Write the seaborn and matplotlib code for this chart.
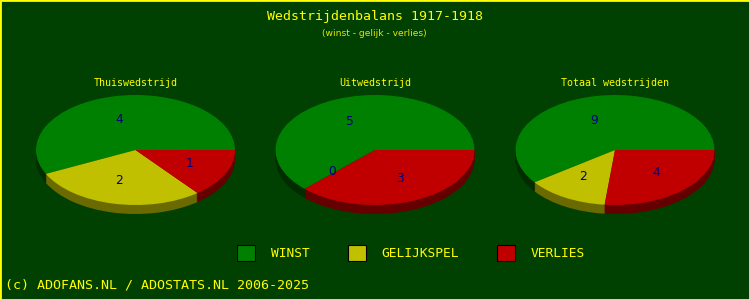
import matplotlib
matplotlib.use("Agg")
import matplotlib.pyplot as plt
import seaborn as sns
from matplotlib.patches import Patch, Rectangle

sns.set_theme(style="white")
plt.rcParams['font.family'] = ['DejaVu Sans Mono', 'DejaVu Sans']

# ---- data ----
categories = ["WINST", "GELIJKSPEL", "VERLIES"]
pie_titles = ["Thuiswedstrijd", "Uitwedstrijd", "Totaal wedstrijden"]
thuis = [4, 2, 1]
uit = [5, 0, 3]
totaal = [9, 2, 4]
series = [thuis, uit, totaal]
title = "Wedstrijdenbalans 1917-1918"
subtitle = "(winst - gelijk - verlies)"
footer = "(c) ADOFANS.NL / ADOSTATS.NL 2006-2025"

# ---- style ----
BG = "#004000"
YEL = "#ffff00"
top_colors = sns.color_palette(["#008000", "#c0c000", "#c00000"])
side_colors = sns.color_palette(["#002c00", "#6a6a00", "#640000"])

W, H = 750, 300
fig = plt.figure(figsize=(W / 100, H / 100), dpi=100, facecolor=BG)

centers_x = [135.5, 375, 615]
cy = 150          # pixel y (from top) of pie centre
rx, ry = 99.5, 55  # pixel radii
depth = 9          # pixel depth of the 3D side

ax_top_px = cy - ry - 5
ax_bot_px = cy + ry + 15
for vals, ttl, cx in zip(series, pie_titles, centers_x):
    left = (cx - rx) / W
    width = 2 * rx / W
    bottom = 1 - ax_bot_px / H
    height = (ax_bot_px - ax_top_px) / H
    ax = fig.add_axes([left, bottom, width, height])
    ax.set_facecolor(BG)
    d = depth / ry
    nsteps = 12
    for k in range(nsteps, 0, -1):
        ax.pie(vals, colors=side_colors, startangle=0, counterclock=True,
               center=(0, -d * k / nsteps), radius=1,
               wedgeprops=dict(linewidth=0), normalize=True)
    ax.pie(vals, colors=top_colors, startangle=0, counterclock=True,
           center=(0, 0), radius=1, labels=[str(v) for v in vals],
           labeldistance=0.56, wedgeprops=dict(linewidth=0),
           textprops=dict(color="#000080", fontsize=8.8, family="DejaVu Sans"),
           normalize=True)
    ax.set_aspect("auto")
    ax.set_xlim(-1, 1)
    ax.set_ylim(-(ax_bot_px - cy) / ry, (cy - ax_top_px) / ry)
    ax.axis("off")
    fig.text(cx / W, 1 - 83 / H, ttl, color=YEL, fontsize=7.2,
             ha="center", va="center")

fig.text(375 / W, 1 - 16.5 / H, title, color=YEL, fontsize=9.5,
         ha="center", va="center")
fig.text(374 / W, 1 - 33.5 / H, subtitle, color="#e6e600", fontsize=6.6,
         ha="center", va="center", family="DejaVu Sans")

handles = [Patch(facecolor=c, edgecolor="black", linewidth=0.8) for c in top_colors]
leg = fig.legend(handles, categories, loc="center left",
                 bbox_to_anchor=(237 / W, 1 - 253 / H), ncol=3, frameon=False,
                 fontsize=9.3, handlelength=1.42, handleheight=1.42,
                 handletextpad=1.2, columnspacing=2.95, borderpad=0,
                 borderaxespad=0)
for t in leg.get_texts():
    t.set_color(YEL)

fig.text(5 / W, 1 - 285 / H, footer, color=YEL, fontsize=9.6,
         ha="left", va="center")

fig.add_artist(Rectangle((0, 0), 1, 1, transform=fig.transFigure,
                         fill=False, edgecolor=YEL, linewidth=2))

fig.savefig("out.png", dpi=100, facecolor=BG)
